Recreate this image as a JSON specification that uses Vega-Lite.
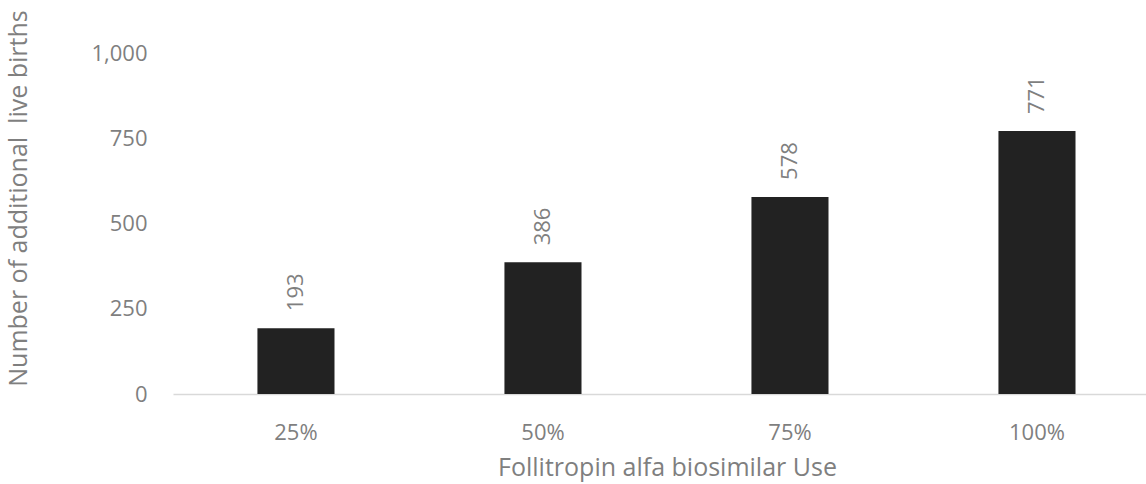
{
  "$schema": "https://vega.github.io/schema/vega-lite/v6.json",
  "autosize": {"type": "none"},
  "padding": {"left": 173, "top": 53, "right": 0, "bottom": 90},
  "width": 973,
  "height": 341,
  "background": "white",
  "config": {"view": {"stroke": null}, "font": "Open Sans"},
  "data": {"values": [
    {"use": "25%", "births": 193},
    {"use": "50%", "births": 386},
    {"use": "75%", "births": 578},
    {"use": "100%", "births": 771}
  ]},
  "encoding": {
    "x": {"field": "use", "type": "nominal", "sort": null,
      "scale": {"paddingInner": 0.688, "paddingOuter": 0.3136, "align": 0.545},
      "axis": {"title": "Follitropin alfa biosimilar Use", "labelAngle": 0, "ticks": false,
        "domainColor": "#d9d9d9", "domainWidth": 1.5, "labelFontSize": 22, "labelColor": "#7f7f7f",
        "labelPadding": 28, "titleFontSize": 25, "titleFontWeight": "normal", "titleColor": "#7f7f7f", "titlePadding": 12, "titleX": 494}},
    "y": {"field": "births", "type": "quantitative",
      "scale": {"domain": [0, 1000]},
      "axis": {"title": "Number of additional\u00a0 live births", "values": [0, 250, 500, 750, 1000], "format": ",.0f",
        "grid": false, "domain": false, "ticks": false, "labelFontSize": 22, "labelColor": "#7f7f7f",
        "labelPadding": 26, "titleFontSize": 25, "titleFontWeight": "normal", "titleColor": "#7f7f7f", "titlePadding": 59, "titleY": 145}}
  },
  "layer": [
    {"mark": {"type": "bar", "color": "#222222"}},
    {"mark": {"type": "text", "angle": 270, "align": "left", "baseline": "middle", "dx": 17, "fontSize": 22, "color": "#7f7f7f"},
      "encoding": {"text": {"field": "births", "type": "quantitative"}}}
  ]
}
